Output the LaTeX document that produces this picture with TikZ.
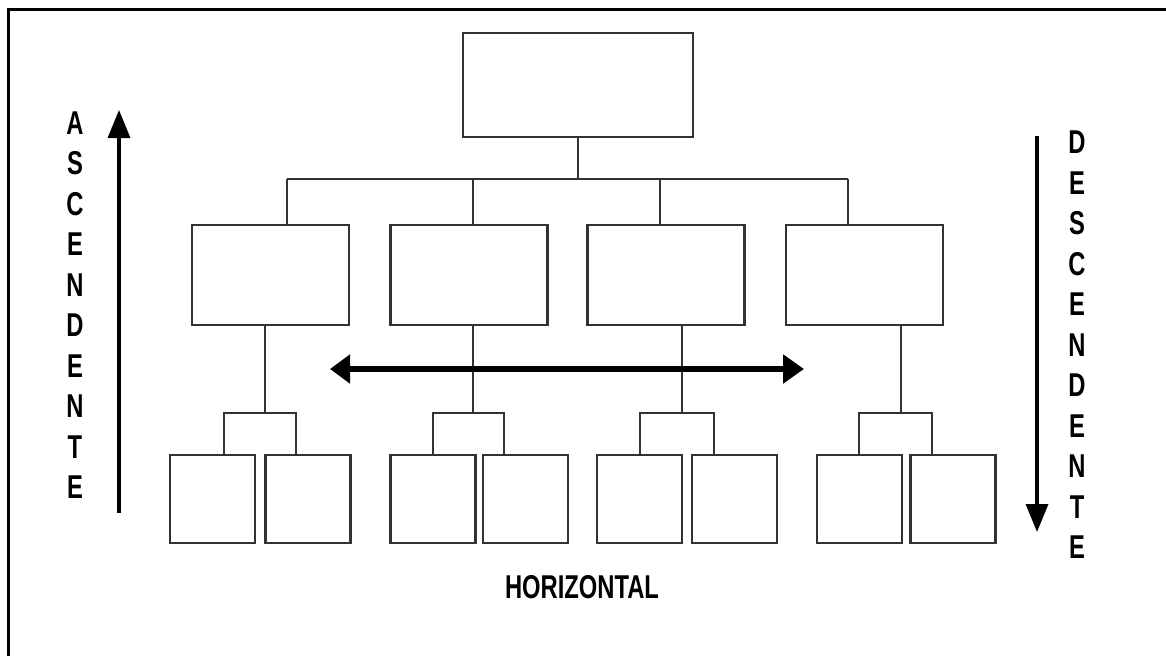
\documentclass[tikz,border=0pt]{standalone}
\usepackage{fontspec}
\newfontfamily\cond[FakeStretch=0.72]{Liberation Sans}
\usetikzlibrary{arrows.meta}
\tikzset{
  box/.style={draw=black!80, line width=2.2pt, inner sep=0pt, fill=white},
  big/.style={box, minimum width=230pt, minimum height=104pt},
  mid/.style={box, minimum width=157pt, minimum height=100pt},
  small/.style={box, minimum width=85pt, minimum height=88pt},
  link/.style={draw=black!80, line width=2pt},
  vlabel/.style={align=center, font=\cond\bfseries\fontsize{33}{40.5}\selectfont, inner sep=0pt},
  hlabel/.style={font=\cond\bfseries\fontsize{33}{38}\selectfont, inner sep=0pt},
  bigarrow/.style={line width=6pt, {Triangle[length=20pt,width=28pt]}-{Triangle[length=21pt,width=28pt]}},
  varrow/.style={line width=3.5pt, -{Triangle[length=28pt,width=22pt]}}
}
\begin{document}
\begin{tikzpicture}[x=1pt,y=-1pt]
\useasboundingbox (0,0) rectangle (1166,656);
\draw[line width=3pt] (8,656) -- (8,9) -- (1166,9);
% top
\node[big] (top) at (578,85) {};
% level 2
\node[mid] (m1) at (270.5,275) {};
\node[mid] (m2) at (469,275) {};
\node[mid] (m3) at (666,275) {};
\node[mid] (m4) at (864.5,275) {};
% bottom
\node[small] (l1a) at (212.5,499) {};
\node[small] (l1b) at (308,499) {};
\node[small] (l2a) at (433,499) {};
\node[small] (l2b) at (525.5,499) {};
\node[small] (l3a) at (639.5,499) {};
\node[small] (l3b) at (734.5,499) {};
\node[small] (l4a) at (859.5,499) {};
\node[small] (l4b) at (953,499) {};
% bus coordinates
\coordinate (t0) at (578,179);
\coordinate (b1) at (287,179);
\coordinate (b2) at (473,179);
\coordinate (b3) at (660,179);
\coordinate (b4) at (848,179);
\draw[link] (top.south) -- (t0);
\draw[link] (b1) -- (b4);
\draw[link] (b1) -- (b1 |- m1.north);
\draw[link] (b2) -- (b2 |- m2.north);
\draw[link] (b3) -- (b3 |- m3.north);
\draw[link] (b4) -- (b4 |- m4.north);
% sub-brackets
\coordinate (j1) at (265,413);
\coordinate (j2) at (473,413);
\coordinate (j3) at (682,413);
\coordinate (j4) at (901,413);
\coordinate (k1a) at (224,413); \coordinate (k1b) at (296,413);
\coordinate (k2a) at (433,413); \coordinate (k2b) at (504,413);
\coordinate (k3a) at (640,413); \coordinate (k3b) at (714,413);
\coordinate (k4a) at (859,413); \coordinate (k4b) at (932,413);
\draw[link] (m1.south -| j1) -- (j1);
\draw[link] (m2.south -| j2) -- (j2);
\draw[link] (m3.south -| j3) -- (j3);
\draw[link] (m4.south -| j4) -- (j4);
\draw[link] (l1a.north -| k1a) -- (k1a) -- (k1b) -- (l1b.north -| k1b);
\draw[link] (l2a.north -| k2a) -- (k2a) -- (k2b) -- (l2b.north -| k2b);
\draw[link] (l3a.north -| k3a) -- (k3a) -- (k3b) -- (l3b.north -| k3b);
\draw[link] (l4a.north -| k4a) -- (k4a) -- (k4b) -- (l4b.north -| k4b);
% arrows
\coordinate (hl) at (330,369);
\coordinate (hr) at (804,369);
\draw[bigarrow] (hl) -- (hr);
\coordinate (ab) at (119,513);
\coordinate (at) at (119,110);
\draw[varrow] (ab) -- (at);
\coordinate (dt) at (1037,136);
\coordinate (db) at (1037,532);
\draw[varrow] (dt) -- (db);
% labels
\node[vlabel] (asc) at (75,305) {A\\S\\C\\E\\N\\D\\E\\N\\T\\E};
\node[vlabel] (desc) at (1077,345) {D\\E\\S\\C\\E\\N\\D\\E\\N\\T\\E};
\node[hlabel] (hor) at (582,587) {HORIZONTAL};
\end{tikzpicture}
\end{document}
